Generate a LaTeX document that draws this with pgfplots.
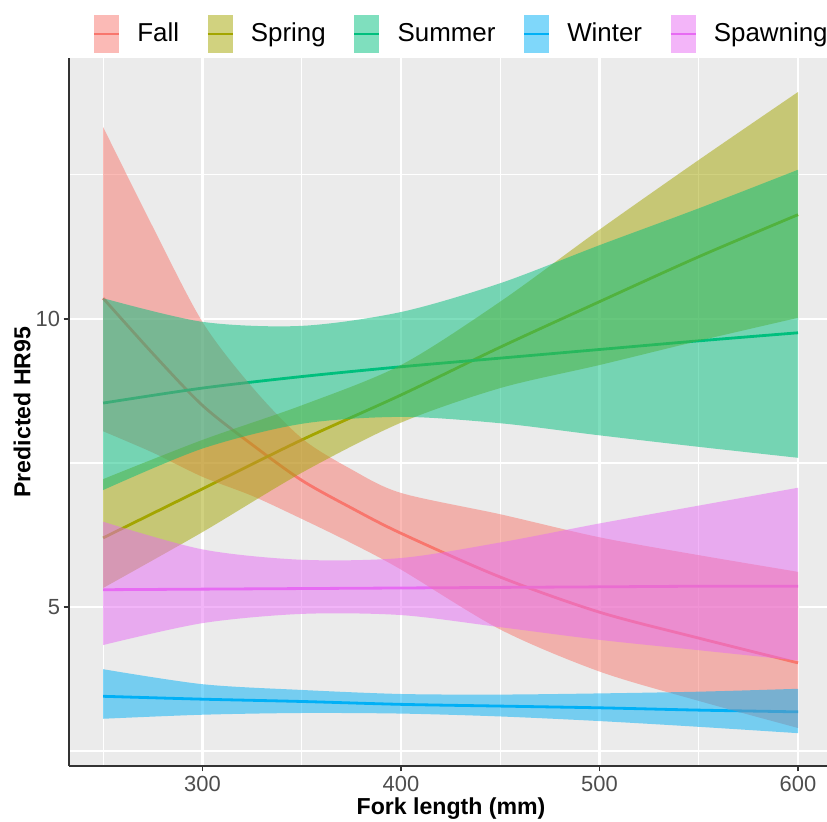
\documentclass[border=0pt]{standalone}
\usepackage{pgfplots}
\pgfplotsset{compat=1.18}
\usepackage{pgfplotstable}
\usepgfplotslibrary{fillbetween}
\usepackage{fontspec}
\setmainfont{Liberation Sans}

\definecolor{ggbg}{HTML}{EBEBEB}
\definecolor{cFall}{HTML}{F8766D}
\definecolor{cSpring}{HTML}{A3A500}
\definecolor{cSummer}{HTML}{00BF7D}
\definecolor{cWinter}{HTML}{00B0F6}
\definecolor{cSpawn}{HTML}{E76BF3}
\definecolor{gray30}{HTML}{4D4D4D}
\definecolor{gray20}{HTML}{333333}

\pgfplotstableread{
x   lo    mid    hi
250 8.05  10.36  13.33
275 7.68  9.40   11.60
300 7.26  8.50   9.95
325 6.93  7.82   8.82
350 6.53  7.20   7.93
375 6.11  6.72   7.39
400 5.65  6.28   6.98
450 4.61  5.52   6.61
500 3.88  4.91   6.21
550 3.37  4.46   5.90
600 2.90  4.03   5.61
}\fall

\pgfplotstableread{
x   lo    mid    hi
250 5.33  6.20   7.22
300 6.30  7.05   7.90
350 7.33  7.90   8.50
400 8.20  8.68   9.20
450 8.80  9.51   10.30
500 9.20  10.30  11.55
550 9.62  11.08  12.76
600 10.02 11.81  13.94
}\spring

\pgfplotstableread{
x   lo    mid    hi
250 7.03  8.54   10.36
300 7.75  8.80   9.95
350 8.18  9.00   9.88
400 8.30  9.17   10.12
450 8.19  9.32   10.62
500 7.98  9.47   11.28
550 7.78  9.62   11.92
600 7.59  9.76   12.59
}\summer

\pgfplotstableread{
x   lo    mid    hi
250 3.06  3.45   3.92
300 3.13  3.40   3.66
350 3.16  3.36   3.56
400 3.15  3.31   3.49
450 3.10  3.28   3.48
500 3.02  3.25   3.50
550 2.92  3.21   3.53
600 2.81  3.18   3.58
}\winter

\pgfplotstableread{
x   lo    mid    hi
250 4.34  5.30   6.48
300 4.72  5.31   6.00
350 4.88  5.32   5.82
400 4.86  5.33   5.85
450 4.65  5.34   6.12
500 4.43  5.35   6.45
550 4.25  5.36   6.76
600 4.07  5.36   7.07
}\spawn

\pgfplotsset{
  ribkey/.style={legend image code/.code={
    \path[fill=#1, fill opacity=0.5, draw=none] (0bp,-9.5bp) rectangle (12.5bp,9.5bp);
    \draw[#1, line width=1.4bp] (0bp,0bp) -- (12.5bp,0bp);
  }},
  meanline/.style={#1, line width=1.4bp, smooth, forget plot, on layer=axis tick labels},
}

\begin{document}
\begin{tikzpicture}
\begin{axis}[
  name=ax,
  set layers,
  scale only axis,
  width=379bp, height=354bp,
  xmin=232.8, xmax=614.6,
  ymin=2.24, ymax=14.53,
  axis background/.style={fill=ggbg},
  axis x line*=bottom, axis y line*=left,
  axis line style={gray20, line width=0.8bp},
  xtick={300,400,500,600},
  minor xtick={250,350,450,550},
  ytick={5,10},
  minor ytick={2.5,7.5,12.5},
  grid=both,
  major grid style={white, line width=1.1bp},
  minor grid style={white, line width=0.55bp},
  tick align=outside,
  major tick length=2.75bp,
  minor tick length=0bp,
  tick style={gray20, line width=0.8bp},
  /pgf/number format/assume math mode=true,
  ticklabel style={font=\fontsize{11}{13}\selectfont, text=gray30},
  xticklabel style={inner sep=1bp, yshift=-1.2bp},
  yticklabel style={inner sep=1bp, xshift=-0.5bp},
  xlabel={Fork length (mm)},
  ylabel={Predicted HR95},
  xlabel style={font=\fontsize{11.6}{14}\selectfont\bfseries, at={(axis description cs:0.504,-0.0692)}, anchor=base},
  ylabel style={font=\fontsize{11.6}{14}\selectfont\bfseries, at={(axis description cs:-0.062,0.5)}, anchor=center},
  legend columns=5,
  legend style={
    at={(axis description cs:0.516,1.0339)}, anchor=center,
    draw=none, fill=none, inner sep=0pt,
    nodes={inner sep=0pt},
    font=\fontsize{13}{15}\selectfont,
    /tikz/every odd column/.append style={column sep=8.5bp},
    /tikz/every even column/.append style={column sep=13.5bp},
  },
  legend cell align=left,
]
\addlegendimage{ribkey=cFall}\addlegendentry{Fall}
\addlegendimage{ribkey=cSpring}\addlegendentry{Spring}
\addlegendimage{ribkey=cSummer}\addlegendentry{Summer}
\addlegendimage{ribkey=cWinter}\addlegendentry{Winter}
\addlegendimage{ribkey=cSpawn}\addlegendentry{Spawning}

% mean lines (on a layer beneath the ribbons, as in the reference)
\addplot[meanline=cFall] table[x=x,y=mid] {\fall};
\addplot[meanline=cSpring] table[x=x,y=mid] {\spring};
\addplot[meanline=cSummer] table[x=x,y=mid] {\summer};
\addplot[meanline=cWinter] table[x=x,y=mid] {\winter};
\addplot[meanline=cSpawn] table[x=x,y=mid] {\spawn};

% ribbon boundaries
\addplot[name path=fu, draw=none, smooth, forget plot] table[x=x,y=hi] {\fall};
\addplot[name path=fl, draw=none, smooth, forget plot] table[x=x,y=lo] {\fall};
\addplot[name path=pu, draw=none, smooth, forget plot] table[x=x,y=hi] {\spring};
\addplot[name path=pl, draw=none, smooth, forget plot] table[x=x,y=lo] {\spring};
\addplot[name path=su, draw=none, smooth, forget plot] table[x=x,y=hi] {\summer};
\addplot[name path=sl, draw=none, smooth, forget plot] table[x=x,y=lo] {\summer};
\addplot[name path=wu, draw=none, smooth, forget plot] table[x=x,y=hi] {\winter};
\addplot[name path=wl, draw=none, smooth, forget plot] table[x=x,y=lo] {\winter};
\addplot[name path=au, draw=none, smooth, forget plot] table[x=x,y=hi] {\spawn};
\addplot[name path=al, draw=none, smooth, forget plot] table[x=x,y=lo] {\spawn};

% ribbons
\addplot[fill=cFall, fill opacity=0.5, draw=none, forget plot] fill between[of=fu and fl];
\addplot[fill=cSpring, fill opacity=0.5, draw=none, forget plot] fill between[of=pu and pl];
\addplot[fill=cSummer, fill opacity=0.5, draw=none, forget plot] fill between[of=su and sl];
\addplot[fill=cWinter, fill opacity=0.5, draw=none, forget plot] fill between[of=wu and wl];
\addplot[fill=cSpawn, fill opacity=0.5, draw=none, forget plot] fill between[of=au and al];
\end{axis}
\pgfresetboundingbox
\path (ax.south west) ++(-34.5bp,-28bp) rectangle ++(413.5bp,411bp);
\end{tikzpicture}
\end{document}
